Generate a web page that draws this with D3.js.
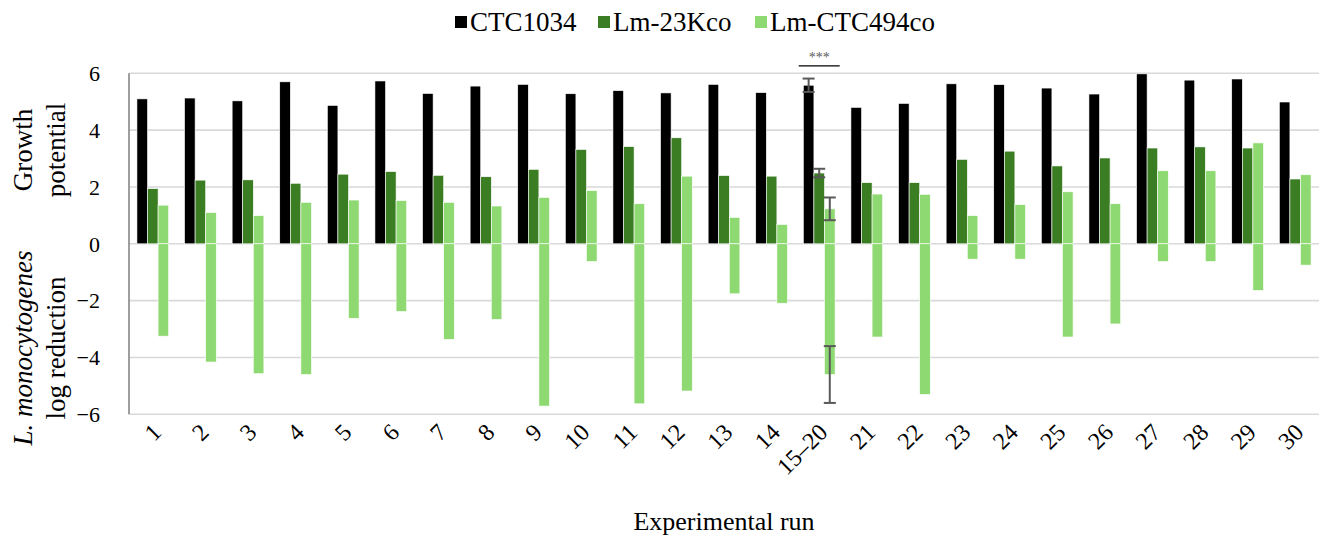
<!DOCTYPE html>
<html>
<head>
<meta charset="utf-8">
<script src="https://cdn.jsdelivr.net/npm/d3@7"></script>
<style>
  html, body { margin: 0; padding: 0; background: #fff; }
  svg, svg text { font-family: "Liberation Serif", "Times New Roman", Times, "DejaVu Serif", serif; }
</style>
</head>
<body>
<svg id="chart" width="1319" height="538"></svg>
<script>
// ---- data ----
const categories = ["1","2","3","4","5","6","7","8","9","10","11","12","13","14","15–20","21","22","23","24","25","26","27","28","29","30"];
const seriesNames = ["CTC1034", "Lm-23Kco", "Lm-CTC494co"];
const ctc1034 = [5.10,5.13,5.03,5.70,4.87,5.73,5.29,5.55,5.61,5.28,5.39,5.31,5.61,5.32,5.58,4.80,4.94,5.63,5.60,5.48,5.27,5.98,5.76,5.80,4.99];
const lm23Kco = [1.94,2.24,2.25,2.13,2.45,2.54,2.41,2.36,2.62,3.32,3.42,3.73,2.40,2.38,2.49,2.15,2.15,2.97,3.26,2.74,3.02,3.37,3.41,3.37,2.28];
const lmCTC494coGrowth = [1.36,1.10,0.99,1.46,1.54,1.52,1.46,1.33,1.63,1.87,1.41,2.38,0.93,0.68,1.23,1.75,1.74,0.99,1.38,1.83,1.41,2.57,2.57,3.55,2.43];
const lmCTC494coReduction = [-3.25,-4.16,-4.57,-4.60,-2.62,-2.38,-3.36,-2.66,-5.71,-0.62,-5.63,-5.18,-1.76,-2.09,-4.60,-3.28,-5.30,-0.54,-0.54,-3.28,-2.82,-0.62,-0.62,-1.64,-0.75];
const yTicks = [-6,-4,-2,0,2,4,6];
// error bars (only for the pooled runs 15–20)
const errorCategory = "15–20";
const errorValues = [0.235, 0.15, 0.40, 1.0]; // CTC1034, Lm-23Kco, Lm-CTC494co growth, Lm-CTC494co reduction
const significanceLabel = "***";
const colors = ["#000000", "#3b7d23", "#8fd973"];

// ---- layout ----
const FONT = "'Liberation Serif', 'Times New Roman', Times, 'DejaVu Serif', serif";
const svg = d3.select("#chart").attr("font-family", FONT);
const plotLeft = 129, plotRight = 1319, plotTop = 73.3, plotBottom = 414.3;

const x = d3.scaleBand().domain(categories).range([plotLeft, plotRight]).paddingInner(1/3).paddingOuter(1/6);
const xs = d3.scaleBand().domain(seriesNames).range([0, x.bandwidth()]);
const y = d3.scaleLinear().domain([-6, 6]).range([plotBottom, plotTop]);

// gridlines
svg.append("g").selectAll("line").data(yTicks).join("line")
  .attr("x1", plotLeft).attr("x2", plotRight)
  .attr("y1", d => y(d)).attr("y2", d => y(d))
  .attr("stroke", "#d9d9d9").attr("stroke-width", 1.6);

// y axis line
svg.append("line").attr("x1", plotLeft).attr("x2", plotLeft).attr("y1", y(6)).attr("y2", y(-6))
  .attr("stroke", "#868686").attr("stroke-width", 1.6);

// y tick labels
svg.append("g").selectAll("text").data(yTicks).join("text")
  .attr("font-family", FONT)
  .attr("x", 100).attr("y", d => y(d)).attr("dy", "0.35em")
  .attr("text-anchor", "end").attr("font-size", 22).attr("fill", "#000")
  .text(d => d < 0 ? "\u2212" + Math.abs(d) : String(d));

// bars
const rows = categories.map((c, i) => ({c, i}));
function bars(values, sIdx) {
  svg.append("g").selectAll("rect").data(rows).join("rect")
    .attr("x", d => x(d.c) + xs(seriesNames[sIdx]))
    .attr("width", xs.bandwidth())
    .attr("y", d => y(Math.max(0, values[d.i])))
    .attr("height", d => Math.abs(y(values[d.i]) - y(0)))
    .attr("fill", colors[sIdx])
    .attr("stroke", "#ffffff").attr("stroke-width", 0.6);
}
bars(ctc1034, 0);
bars(lm23Kco, 1);
bars(lmCTC494coGrowth, 2);
bars(lmCTC494coReduction, 2);

// error bars
const ei = categories.indexOf(errorCategory);
const errItems = [
  {s: 0, v: ctc1034[ei], e: errorValues[0]},
  {s: 1, v: lm23Kco[ei], e: errorValues[1]},
  {s: 2, v: lmCTC494coGrowth[ei], e: errorValues[2]},
  {s: 2, v: lmCTC494coReduction[ei], e: errorValues[3]}
];
const eg = svg.append("g").attr("stroke", "#595959").attr("stroke-width", 2);
errItems.forEach(d => {
  const cx = x(errorCategory) + xs(seriesNames[d.s]) + xs.bandwidth() / 2;
  const y1 = y(d.v + d.e), y2 = y(d.v - d.e);
  eg.append("line").attr("x1", cx).attr("x2", cx).attr("y1", y1).attr("y2", y2);
  eg.append("line").attr("x1", cx - 6).attr("x2", cx + 6).attr("y1", y1).attr("y2", y1);
  eg.append("line").attr("x1", cx - 6).attr("x2", cx + 6).attr("y1", y2).attr("y2", y2);
});

// significance marker
const sigX = x(errorCategory) + x.bandwidth() / 2;
svg.append("line").attr("x1", sigX - 20.5).attr("x2", sigX + 20.5)
  .attr("y1", y(6) - 7.5).attr("y2", y(6) - 7.5).attr("stroke", "#000").attr("stroke-width", 1.3);
svg.append("text").attr("font-family", FONT).attr("x", sigX).attr("y", y(6) - 11).attr("text-anchor", "middle")
  .attr("font-size", 14).attr("fill", "#595959").text(significanceLabel);

// x tick labels
svg.append("g").selectAll("text").data(categories).join("text")
  .attr("font-family", FONT)
  .attr("transform", d => `translate(${x(d) + x.bandwidth() / 2 - 2},${422}) rotate(-45)`)
  .attr("text-anchor", "end").attr("dy", "0.7em")
  .attr("font-size", 24).attr("fill", "#000").text(d => d);

// x title
svg.append("text").attr("font-family", FONT).attr("x", 724).attr("y", 530).attr("text-anchor", "middle")
  .attr("font-size", 26).attr("fill", "#000").text("Experimental run");

// y titles
function yTitle(cy, lines) {
  const g = svg.append("g").attr("transform", `translate(0,${cy}) rotate(-90)`);
  lines.forEach((ln, k) => {
    const t = g.append("text").attr("font-family", FONT).attr("x", 0).attr("y", 32 + k * 33).attr("text-anchor", "middle")
      .attr("font-size", 27).attr("fill", "#000");
    ln.forEach(part => t.append("tspan").attr("font-style", part.italic ? "italic" : "normal").text(part.t));
  });
}
yTitle(150, [[{t: "Growth"}], [{t: "potential"}]]);
yTitle(348, [[{t: "L. monocytogenes", italic: true}], [{t: "log reduction"}]]);

// legend
const legendX = [455, 598, 755];
const lg = svg.append("g");
seriesNames.forEach((s, k) => {
  lg.append("rect").attr("x", legendX[k]).attr("y", 16).attr("width", 12).attr("height", 12).attr("fill", colors[k]);
  lg.append("text").attr("font-family", FONT).attr("x", legendX[k] + 15).attr("y", 31).attr("font-size", 27).attr("fill", "#000").text(s);
});
</script>
</body>
</html>
